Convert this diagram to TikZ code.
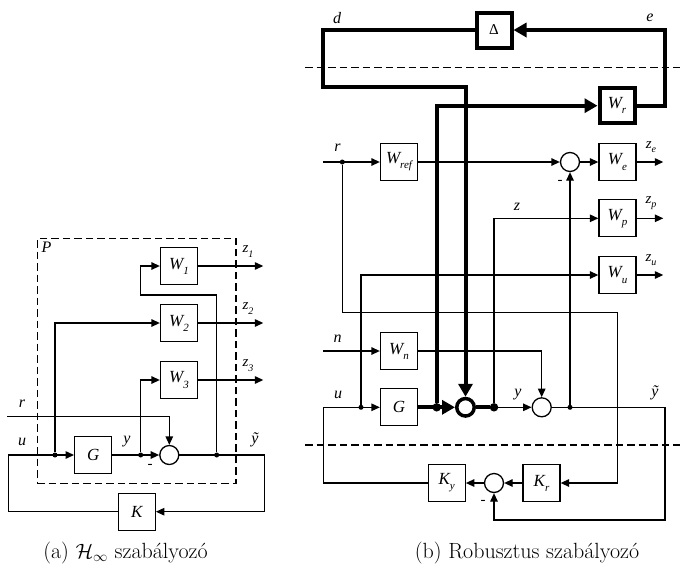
\documentclass[tikz,border=0pt]{standalone}
\usepackage{fontspec}
\newfontfamily\tnr{Liberation Serif}
\usetikzlibrary{arrows.meta}
\newcommand{\sbx}[2]{#1\raisebox{-0.3em}{\fontsize{11}{11}\selectfont #2}}
\newcommand{\sbz}[2]{#1\raisebox{-0.3em}{\fontsize{10}{10}\selectfont #2}}
\begin{document}
\begin{tikzpicture}[x=1pt,y=-1pt,
  ln/.style={line width=1.3pt},
  tk/.style={line width=4pt},
  arr/.style={ln,-{Triangle[length=8.5pt,width=7.5pt]}},
  tarr/.style={tk,-{Triangle[length=13pt,width=14pt]}},
  blk/.style={draw,ln,minimum width=37pt,minimum height=37pt,inner sep=0pt,font=\tnr\itshape\fontsize{17}{17}\selectfont},
  tblk/.style={blk,tk,minimum width=35pt,minimum height=35pt},
  sumc/.style={circle,draw,ln,minimum size=19pt,inner sep=0pt},
  bsum/.style={circle,draw,line width=3.5pt,minimum size=17.5pt,inner sep=0pt},
  dotn/.style={circle,fill,inner sep=0pt,minimum size=5pt},
  tdot/.style={circle,fill,inner sep=0pt,minimum size=8.5pt},
  lbl/.style={font=\tnr\itshape\fontsize{16}{16}\selectfont,inner sep=0pt},
  zl/.style={font=\tnr\itshape\fontsize{15}{15}\selectfont,inner sep=0pt},
  mn/.style={font=\tnr\fontsize{15}{15}\selectfont,inner sep=0pt},
  dsh/.style={ln,dash pattern=on 7.5pt off 4pt},
  captxt/.style={font=\fontsize{22}{26}\selectfont,anchor=base,inner sep=0pt}
]
\useasboundingbox (0,0) rectangle (680,571);

% ---------------- left diagram ----------------
\node[draw,dsh,minimum width=198.6pt,minimum height=245pt,inner sep=0pt,anchor=north west] (Pb) at (36.7,237.7) {};
\node[lbl] (Pl) at (46.5,247) {P};
\node[blk] (W1) at (179,266) {\sbx{W}{1}};
\node[blk] (W2) at (179,323) {\sbx{W}{2}};
\node[blk] (W3) at (179,380) {\sbx{W}{3}};
\node[blk] (G1) at (93.2,455) {G};
\node[blk] (K1) at (136.7,511.7) {K};
\node[sumc] (S1) at (169.3,455) {};
\node[dotn] (a1) at (55,455) {};
\node[dotn] (a2) at (140.7,455) {};
\node[dotn] (a3) at (216.7,455) {};
\coordinate (rL) at (7.3,416.5);
\coordinate (lL) at (8.3,455);
\coordinate (lR) at (264.3,455);
\coordinate (k1) at (140.7,295);
\coordinate (z1e) at (263.3,266);
\coordinate (z2e) at (263.3,323);
\coordinate (z3e) at (263.3,380);

\draw[arr] (K1.west) -| (lL) -- (G1.west);
\draw[arr] (G1.east) -- (S1.west);
\draw[arr] (S1.east) -- (lR) |- (K1.east);
\draw[arr] (a1) |- (W2.west);
\draw[arr] (a2) |- (W3.west);
\draw[arr] (a3) |- (k1) |- (W1.west);
\draw[arr] (rL) -| (S1.north);
\draw[arr] (W1.east) -- (z1e);
\draw[arr] (W2.east) -- (z2e);
\draw[arr] (W3.east) -- (z3e);

\node[zl] (z1l) at (248,251.5) {\sbz{z}{1}};
\node[zl] (z2l) at (248,308.5) {\sbz{z}{2}};
\node[zl] (z3l) at (248,365.5) {\sbz{z}{3}};
\node[lbl] (rl1) at (22,404) {r};
\node[lbl] (ul1) at (22,442) {u};
\node[lbl] (yl1) at (127,442) {y};
\node[lbl] (ytl1) at (255,440) {ỹ};
\node[mn] (m1) at (150,466) {-};

% ---------------- right diagram ----------------
\coordinate (h1a) at (305,67.7);
\coordinate (h1b) at (680,67.7);
\coordinate (h2a) at (305,445);
\coordinate (h2b) at (680,445);
\draw[dsh] (h1a) -- (h1b);
\draw[dsh] (h2a) -- (h2b);

\node[tblk] (Dl) at (494,30) {\upshape\fontsize{15}{15}\selectfont Δ};
\node[tblk] (Wr) at (617,105.7) {\sbx{W}{r}};
\node[blk] (Wref) at (399,162) {\sbx{W}{ref}};
\node[blk] (We) at (617.5,162) {\sbx{W}{e}};
\node[blk] (Wp) at (617.5,218.3) {\sbx{W}{p}};
\node[blk] (Wu) at (617.5,275) {\sbx{W}{u}};
\node[blk] (Wn) at (399,351) {\sbx{W}{n}};
\node[blk] (G2) at (399,407.3) {G};
\node[blk] (Ky) at (446.7,483) {\sbx{K}{y}};
\node[blk] (Kr) at (541.5,483) {\sbx{K}{r}};
\node[sumc] (S2) at (570,162) {};
\node[bsum] (BS) at (465.5,407.3) {};
\node[sumc] (S3) at (541.7,407.3) {};
\node[sumc] (S4) at (494,483) {};
\node[dotn] (b1) at (342.3,162) {};
\node[dotn] (b2) at (361,407.3) {};
\node[tdot] (b3) at (436.7,407.3) {};
\node[tdot] (b4) at (494,407.3) {};
\node[dotn] (b5) at (570,407.3) {};
\coordinate (eC) at (665,30);
\coordinate (dC) at (323.3,86.7);
\coordinate (rC) at (323.3,162);
\coordinate (rB) at (617.3,312.7);
\coordinate (nC) at (323.3,351);
\coordinate (uC) at (323.3,407.3);
\coordinate (yC) at (665,407.3);
\coordinate (bC) at (665,520);
\coordinate (zeE) at (663.3,162);
\coordinate (zpE) at (663.3,218.3);
\coordinate (zuE) at (663.3,275);

% thin connectors
\draw[arr] (rC) -- (Wref.west);
\draw[arr] (b1) |- (rB) |- (Kr.east);
\draw[arr] (Wref.east) -- (S2.west);
\draw[arr] (S2.east) -- (We.west);
\draw[arr] (We.east) -- (zeE);
\draw[arr] (Wp.east) -- (zpE);
\draw[arr] (Wu.east) -- (zuE);
\draw[arr] (b4) |- (Wp.west);
\draw[arr] (b2) |- (Wu.west);
\draw[arr] (b5) -- (S2.south);
\draw[arr] (nC) -- (Wn.west);
\draw[arr] (Wn.east) -| (S3.north);
\draw[arr] (b4) -- (S3.west);
\draw[arr] (S3.east) -- (yC) -- (bC) -| (S4.south);
\draw[arr] (Kr.west) -- (S4.east);
\draw[arr] (S4.west) -- (Ky.east);
\draw[arr] (Ky.west) -| (uC) -- (G2.west);

% thick connectors
\draw[tarr] (Wr.east) -| (eC) -- (Dl.east);
\draw[tarr] (Dl.west) -| (dC) -| (BS.north);
\draw[tarr] (b3) |- (Wr.west);
\draw[tarr] (G2.east) -- (BS.west);
\draw[tk] (BS.east) -- (b4);

% labels
\node[lbl] (dl) at (337,18) {d};
\node[lbl] (el) at (650,18) {e};
\node[lbl] (rl2) at (337.5,148) {r};
\node[lbl] (nl) at (337.5,338.5) {n};
\node[lbl] (ul2) at (338,395) {u};
\node[lbl] (yl2) at (518,395) {y};
\node[lbl] (ytl2) at (655,393) {ỹ};
\node[lbl] (zl0) at (517,207) {z};
\node[zl] (zel) at (651,147) {\sbz{z}{e}};
\node[zl] (zpl) at (651,203) {\sbz{z}{p}};
\node[zl] (zul) at (651,260) {\sbz{z}{u}};
\node[mn] (m2) at (560,182) {-};
\node[mn] (m3) at (483,502) {-};

% captions
\node[captxt] (capa) at (125.5,558) {(a) $\mathcal{H}_\infty$ szabályozó};
\node[captxt] (capb) at (527,558) {(b) Robusztus szabályozó};
\end{tikzpicture}
\end{document}
